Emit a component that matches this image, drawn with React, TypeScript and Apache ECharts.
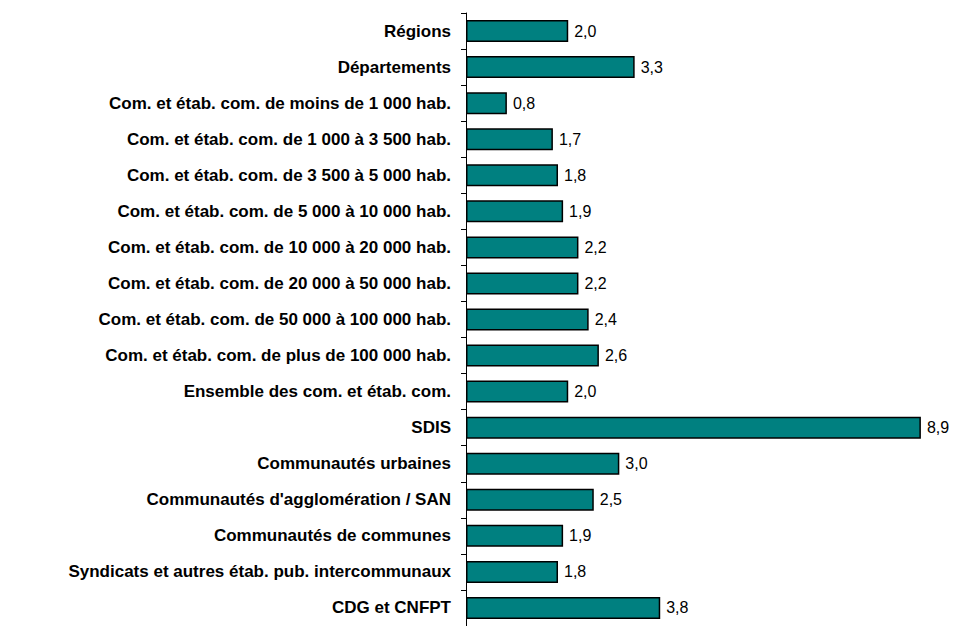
import React, { useEffect, useRef } from "react";
import * as echarts from "echarts";

const categories = [
  "Régions",
  "Départements",
  "Com. et étab. com. de moins de 1 000 hab.",
  "Com. et étab. com. de 1 000 à 3 500 hab.",
  "Com. et étab. com. de 3 500 à 5 000 hab.",
  "Com. et étab. com. de 5 000 à 10 000 hab.",
  "Com. et étab. com. de 10 000 à 20 000 hab.",
  "Com. et étab. com. de 20 000 à 50 000 hab.",
  "Com. et étab. com. de 50 000 à 100 000 hab.",
  "Com. et étab. com. de plus de 100 000 hab.",
  "Ensemble des com. et étab. com.",
  "SDIS",
  "Communautés urbaines",
  "Communautés d'agglomération / SAN",
  "Communautés de communes",
  "Syndicats et autres étab. pub. intercommunaux",
  "CDG et CNFPT",
];

const values = [2.0, 3.3, 0.8, 1.7, 1.8, 1.9, 2.2, 2.2, 2.4, 2.6, 2.0, 8.9, 3.0, 2.5, 1.9, 1.8, 3.8];

export default function App() {
  const ref = useRef<HTMLDivElement>(null);
  useEffect(() => {
    if (!ref.current) return;
    const chart = echarts.init(ref.current, null, { renderer: "svg" });
    chart.setOption({
      animation: false,
      backgroundColor: "#ffffff",
      grid: { left: 466, top: 13, width: 460, height: 616, containLabel: false },
      xAxis: {
        type: "value",
        min: 0,
        max: 9,
        show: false,
      },
      yAxis: {
        type: "category",
        data: categories,
        inverse: true,
        axisLine: { show: true, lineStyle: { color: "#000000", width: 1 } },
        axisTick: { show: true, length: 5, lineStyle: { color: "#000000" } },
        axisLabel: {
          color: "#000000",
          fontFamily: "Liberation Sans, Arial, sans-serif",
          fontWeight: "bold",
          fontSize: 17,
          margin: 15,
        },
        splitLine: { show: false },
      },
      series: [
        {
          type: "bar",
          data: values,
          barCategoryGap: "39%",
          itemStyle: { color: "#008080", borderColor: "#000000", borderWidth: 1.5 },
          label: {
            show: true,
            position: "right",
            distance: 6,
            color: "#000000",
            fontFamily: "Liberation Sans, Arial, sans-serif",
            fontSize: 16,
            formatter: (p: any) => Number(p.value).toFixed(1).replace(".", ","),
          },
        },
      ],
    });
    return () => chart.dispose();
  }, []);
  return (
    <div
      ref={ref}
      style={{ position: "fixed", left: 0, top: 0, width: 956, height: 626, background: "#fff" }}
    />
  );
}
